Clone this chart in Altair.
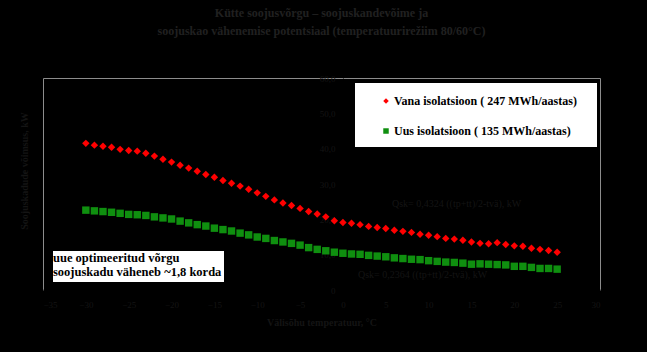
import altair as alt
import pandas as pd

# ---- data ----
temps = list(range(-30, 26))
vana = [41.5, 41.0, 40.7, 40.4, 39.8, 39.5, 39.3, 38.7, 37.9, 37.0,
        36.2, 35.3, 34.5, 33.6, 32.7, 31.9, 31.0, 30.2, 29.4, 28.5,
        27.5, 26.5, 25.5, 24.6, 23.9, 23.1, 22.2, 21.5, 20.7, 19.6,
        19.1, 18.9, 18.5, 18.0, 17.7, 17.4, 16.9, 16.6, 16.3, 15.8,
        15.5, 15.1, 14.6, 14.4, 14.1, 13.6, 13.2, 13.1, 13.4, 12.9,
        12.5, 12.4, 11.8, 11.5, 11.2, 10.7]
uus = [22.6, 22.4, 22.2, 22.0, 21.7, 21.4, 21.3, 21.1, 20.7, 20.4,
       20.1, 19.5, 19.0, 18.5, 18.1, 17.5, 17.1, 16.7, 16.1, 15.6,
       15.0, 14.6, 14.0, 13.6, 13.2, 12.7, 12.0, 11.5, 11.1, 10.7,
       10.4, 10.2, 10.1, 9.8, 9.6, 9.4, 9.1, 8.9, 8.7, 8.6,
       8.3, 8.1, 7.9, 7.8, 7.6, 7.3, 7.4, 7.3, 7.2, 7.1,
       6.7, 6.7, 6.4, 6.1, 6.1, 5.9]
series_names = ["Vana isolatsioon ( 247 MWh/aastas)", "Uus isolatsioon ( 135 MWh/aastas)"]
x_ticks = list(range(-35, 31, 5))
y_ticks = [0, 10, 20, 30, 40, 50, 60]
title_lines = ["Kütte soojusvõrgu – soojuskandevõime ja",
               "soojuskao vähenemise potentsiaal (temperatuurirežiim 80/60°C)"]
note_lines = ["uue optimeeritud võrgu", "soojuskadu väheneb ~1,8 korda"]
formula_red = "Qsk= 0,4324 ((tp+tt)/2-tvä), kW"
formula_green = "Qsk= 0,2364 ((tp+tt)/2-tvä), kW"
y_title = "Soojuskadude võimsus, kW"
x_title = "Välisõhu temperatuur, °C"

df = pd.DataFrame({
    "t": temps * 2,
    "q": vana + uus,
    "s": [series_names[0]] * len(temps) + [series_names[1]] * len(uus),
})

W, H = 557, 212
zero_off = 35 / 65 * W
SERIF = "Liberation Serif"
DIM = "#141414"

xs = alt.Scale(domain=[-35, 30], nice=False)
ys = alt.Scale(domain=[0, 60], nice=False)

points = alt.Chart(df).mark_point(filled=True, opacity=1).encode(
    x=alt.X("t:Q", scale=xs,
            axis=alt.Axis(values=x_ticks, title=x_title, grid=False, ticks=False,
                          domainColor="black", domainWidth=2,
                          labelColor=DIM, labelFont=SERIF, labelFontSize=9,
                          labelPadding=10, titleColor=DIM, titleFont=SERIF,
                          titleFontSize=10, titleFontWeight="bold", titlePadding=8)),
    y=alt.Y("q:Q", scale=ys,
            axis=alt.Axis(values=y_ticks, title=None, grid=False, ticks=False,
                          domainColor="black", offset=-zero_off,
                          labelExpr="datum.value == 0 ? '0' : replace(format(datum.value, '.1f'), '.', ',')",
                          labelColor=DIM, labelFont=SERIF, labelFontSize=9, labelPadding=8)),
    color=alt.Color("s:N", scale=alt.Scale(domain=series_names, range=["#ff0000", "#0f8f0f"]),
                    legend=alt.Legend(title=None, orient="none", legendX=337, legendY=17,
                                      labelFont=SERIF, labelFontSize=12, labelFontWeight="bold",
                                      labelColor="black", symbolSize=30, rowPadding=18,
                                      padding=0, labelOffset=2, labelLimit=400)),
    shape=alt.Shape("s:N", scale=alt.Scale(domain=series_names, range=["diamond", "square"])),
    size=alt.value(55),
)

legend_bg = alt.Chart(pd.DataFrame({"a": [0]})).mark_rect(color="white").encode(
    x=alt.value(312), x2=alt.value(554), y=alt.value(5), y2=alt.value(69))

note_bg = alt.Chart(pd.DataFrame({"a": [0]})).mark_rect(color="white").encode(
    x=alt.value(10), x2=alt.value(181), y=alt.value(173), y2=alt.value(204))

note1 = alt.Chart(pd.DataFrame({"txt": [note_lines[0]]})).mark_text(
    align="left", baseline="alphabetic", font=SERIF, fontSize=12.5, fontWeight="bold", color="black"
).encode(x=alt.value(10), y=alt.value(184), text="txt:N")
note2 = alt.Chart(pd.DataFrame({"txt": [note_lines[1]]})).mark_text(
    align="left", baseline="alphabetic", font=SERIF, fontSize=12.5, fontWeight="bold", color="black"
).encode(x=alt.value(10), y=alt.value(198), text="txt:N")

f_red = alt.Chart(pd.DataFrame({"txt": [formula_red]})).mark_text(
    align="left", baseline="middle", font=SERIF, fontSize=10, color=DIM
).encode(x=alt.value(349), y=alt.value(126), text="txt:N")
f_green = alt.Chart(pd.DataFrame({"txt": [formula_green]})).mark_text(
    align="left", baseline="middle", font=SERIF, fontSize=10, color=DIM
).encode(x=alt.value(315), y=alt.value(197), text="txt:N")

ytitle = alt.Chart(pd.DataFrame({"txt": [y_title]})).mark_text(
    angle=270, align="center", baseline="middle", font=SERIF, fontSize=10,
    fontWeight="bold", color=DIM
).encode(x=alt.value(-18), y=alt.value(93), text="txt:N")

chart = alt.layer(legend_bg, note_bg, points, note1, note2, f_red, f_green, ytitle).properties(
    width=W, height=H,
    autosize=alt.AutoSizeParams(type="none"),
    padding={"left": 43, "top": 78, "right": 47, "bottom": 62},
    background="black",
    title=alt.TitleParams(text=title_lines, anchor="middle", font=SERIF, fontSize=12,
                          fontWeight="bold", color="#202020", offset=36, lineHeight=18),
).configure_view(stroke="#8c8c8c", strokeWidth=1)

chart.save("out.html", embed_options={"renderer": "svg", "actions": False})
